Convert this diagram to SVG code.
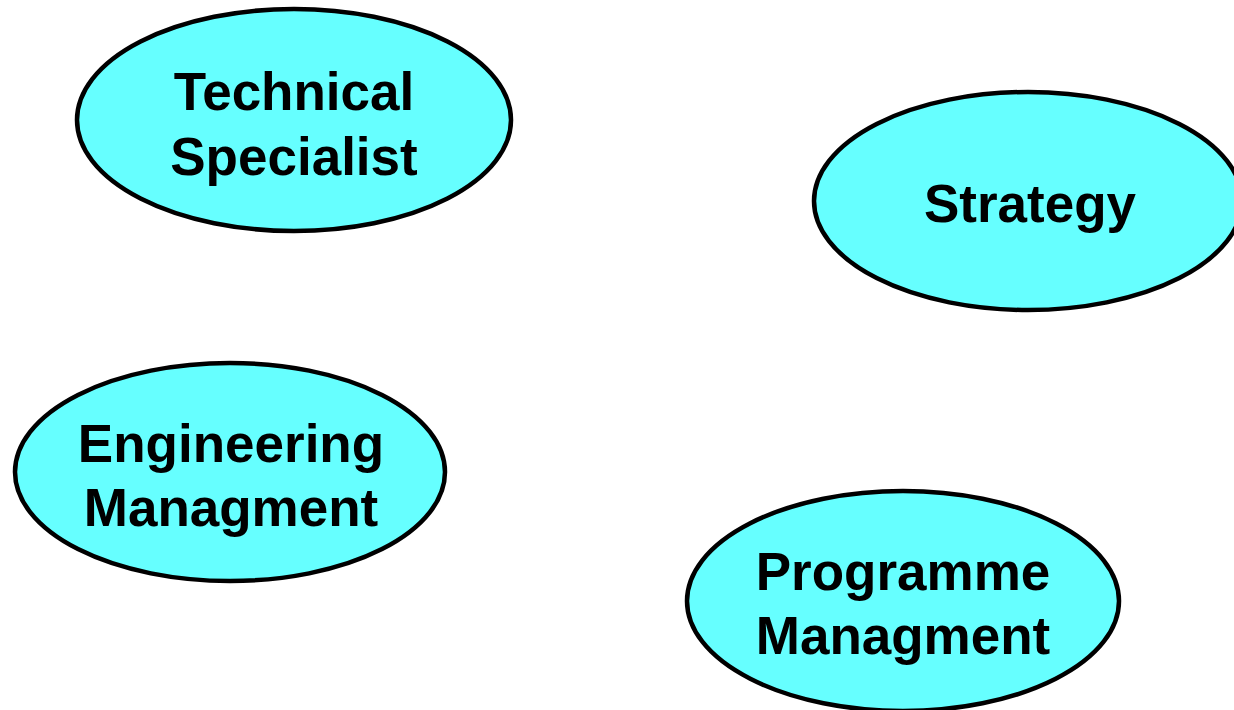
<svg xmlns="http://www.w3.org/2000/svg" width="1234" height="710" viewBox="0 0 1234 710">
<style>
.node ellipse{fill:#66FFFF;stroke:#000;stroke-width:4.5}
.node text{font-family:"Liberation Sans",Arial,sans-serif;font-weight:bold;font-size:53px;fill:#000;text-anchor:middle}
</style>
<rect width="1234" height="710" fill="#fff"/>
<g id="connectors"></g>
<g id="technical" class="node">
<ellipse cx="294" cy="120" rx="217" ry="111"/>
<text x="294" y="110">Technical</text>
<text x="294" y="175">Specialist</text>
</g>
<g id="strategy" class="node">
<ellipse cx="1028" cy="201" rx="214" ry="109"/>
<text x="1030" y="222">Strategy</text>
</g>
<g id="engineering" class="node">
<ellipse cx="230" cy="472" rx="215" ry="109"/>
<text x="231" y="462">Engineering</text>
<text x="231" y="526">Managment</text>
</g>
<g id="programme" class="node">
<ellipse cx="903" cy="601" rx="216" ry="110"/>
<text x="903" y="590">Programme</text>
<text x="903" y="654">Managment</text>
</g>
</svg>
